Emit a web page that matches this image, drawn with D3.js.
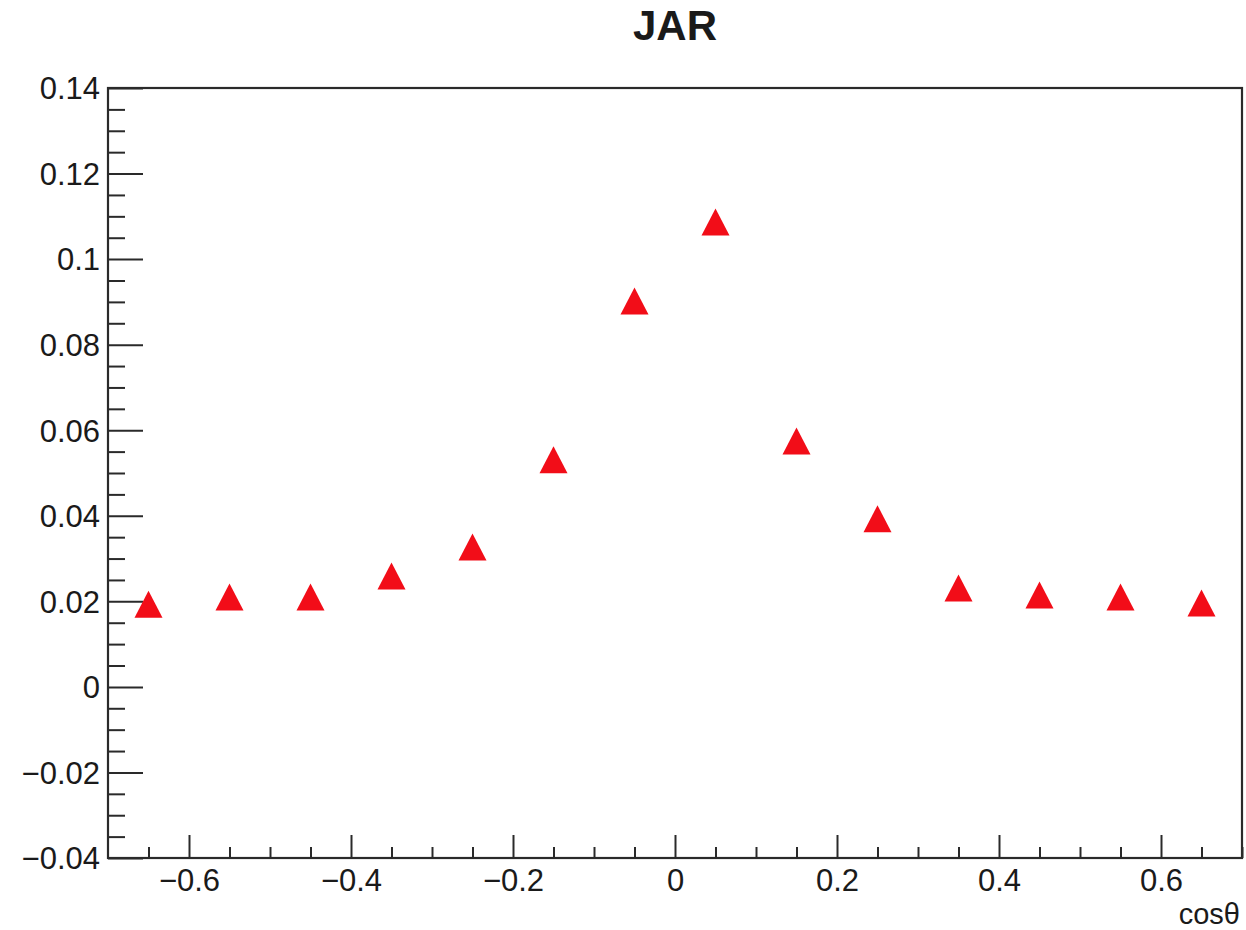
<!DOCTYPE html>
<html>
<head>
<meta charset="utf-8">
<script src="https://cdn.jsdelivr.net/npm/d3@7"></script>
<style>
  html, body { margin: 0; padding: 0; background: #fff; }
  svg { display: block; }
  text { font-family: "Liberation Sans", Arial, Helvetica, sans-serif; fill: #1a1a1a; }
</style>
</head>
<body>
<svg id="chart" width="1246" height="930"></svg>
<script>
// Bin centres in cos(theta) and the measured JAR value per bin
const cosTheta = [-0.65, -0.55, -0.45, -0.35, -0.25, -0.15, -0.05, 0.05, 0.15, 0.25, 0.35, 0.45, 0.55, 0.65];
const jar      = [0.0193, 0.0210, 0.0210, 0.0259, 0.0327, 0.0531, 0.0902, 0.1087, 0.0575, 0.0393, 0.0231, 0.0215, 0.0210, 0.0196];

const xMajorTicks = [-0.6, -0.4, -0.2, 0, 0.2, 0.4, 0.6];
const yMajorTicks = [-0.04, -0.02, 0, 0.02, 0.04, 0.06, 0.08, 0.1, 0.12, 0.14];
const xDomain = [-0.7, 0.7];
const yDomain = [-0.04, 0.14];

const title = "JAR";
const xTitle = "cosθ";

const svg = d3.select("#chart");
const frame = { left: 108, right: 1242, top: 88, bottom: 858 };

const x = d3.scaleLinear().domain(xDomain).range([frame.left, frame.right]);
const y = d3.scaleLinear().domain(yDomain).range([frame.bottom, frame.top]);

const fmt = v => (Math.abs(v) < 1e-12 ? "0" : String(+v.toFixed(3)).replace("-", "\u2212"));

// minor ticks every quarter of a major division
const xMinor = d3.range(-0.65, 0.7001, 0.05).map(v => +v.toFixed(3))
  .filter(v => !xMajorTicks.some(m => Math.abs(m - v) < 1e-9));
const yMinor = d3.range(-0.04, 0.1401, 0.005).map(v => +v.toFixed(4))
  .filter(v => !yMajorTicks.some(m => Math.abs(m - v) < 1e-9));

const axisColor = "#2a2a2a";

// y axis: ticks pointing into the frame
const yMinorG = svg.append("g").attr("transform", `translate(${frame.left},0)`)
  .call(d3.axisLeft(y).tickValues(yMinor).tickSize(-17).tickFormat(""));
const yMajorG = svg.append("g").attr("transform", `translate(${frame.left},0)`)
  .call(d3.axisLeft(y).tickValues(yMajorTicks).tickSize(-35).tickPadding(8).tickFormat(fmt));

// x axis: ticks pointing up into the frame
const xMinorG = svg.append("g").attr("transform", `translate(0,${frame.bottom})`)
  .call(d3.axisBottom(x).tickValues(xMinor).tickSize(-11).tickFormat(""));
const xMajorG = svg.append("g").attr("transform", `translate(0,${frame.bottom})`)
  .call(d3.axisBottom(x).tickValues(xMajorTicks).tickSize(-23).tickPadding(12).tickFormat(fmt));

[yMinorG, yMajorG, xMinorG, xMajorG].forEach(g => {
  g.select(".domain").remove();
  g.selectAll(".tick line").attr("stroke", axisColor).attr("stroke-width", 2);
  g.selectAll(".tick text").attr("font-size", 31).attr("fill", "#1a1a1a")
    .attr("font-family", "'Liberation Sans', Arial, sans-serif");
});
yMajorG.selectAll(".tick text").attr("dy", "0.35em");
xMajorG.selectAll(".tick text").attr("dy", "0.68em");

// frame
svg.append("rect")
  .attr("x", frame.left).attr("y", frame.top)
  .attr("width", frame.right - frame.left).attr("height", frame.bottom - frame.top)
  .attr("fill", "none").attr("stroke", axisColor).attr("stroke-width", 2.2);

// data markers: filled upward triangles
const halfW = 14, halfH = 13.5;
svg.append("g").selectAll("path")
  .data(cosTheta.map((c, i) => ({ c, v: jar[i] })))
  .join("path")
  .attr("d", d => {
    const cx = x(d.c), cy = y(d.v);
    return `M${cx},${cy - halfH}L${cx + halfW},${cy + halfH}L${cx - halfW},${cy + halfH}Z`;
  })
  .attr("fill", "#f20d18");

// titles
svg.append("text")
  .attr("x", 675).attr("y", 40)
  .attr("text-anchor", "middle")
  .attr("font-size", 42).attr("font-weight", "bold")
  .text(title);

svg.append("text")
  .attr("x", frame.right - 2).attr("y", 924)
  .attr("text-anchor", "end")
  .attr("font-size", 29)
  .text(xTitle);
</script>
</body>
</html>
